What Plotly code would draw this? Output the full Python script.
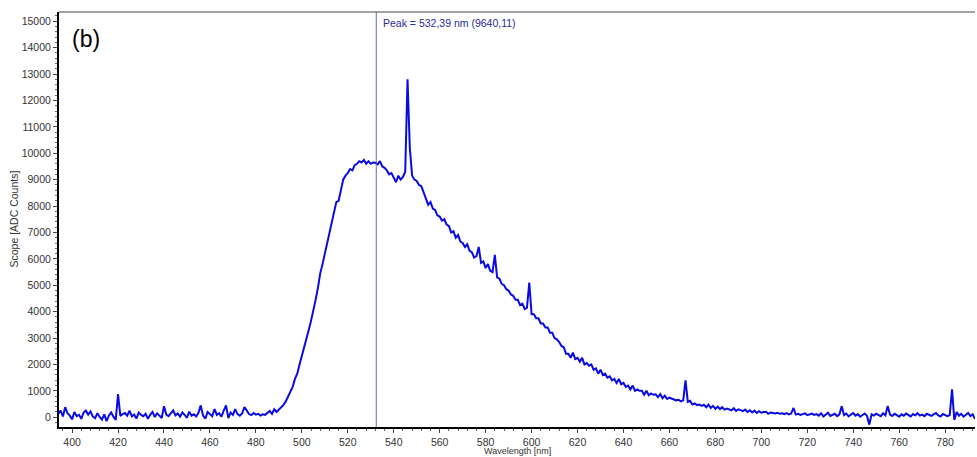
import plotly.graph_objects as go

# wavelength grid (nm), 1 nm sampling
wavelength = list(range(394, 794))

# counts, 10 values per row
counts = [
    120, 250, 30, 380, 150, 60, -80, 200, 40, 90,          # 394
    -60, 180, 250, 100, 220, 30, -40, 150, 10, -90,        # 404
    110, -150, 60, 180, 20, -100, 880, 50, 120, 160,       # 414
    60, 250, 30, 100, -50, 180, 90, 40, 130, -60,          # 424
    90, 200, 10, 150, 60, -30, 420, 100, 40, 130,          # 434
    260, 70, 140, 20, 180, 90, -20, 210, 60, 110,          # 444
    30, 170, 450, 60, -50, 200, 120, 40, 310, 90,          # 454
    150, 20, 250, 450, -30, 180, 90, 310, 120, 60,         # 464
    140, 380, 260, 120, 80, 160, 100, 130, 60, 110,        # 474
    90, 150, 240, 130, 300, 200, 280, 380, 470, 600,       # 484
    780, 950, 1150, 1450, 1650, 2000, 2300, 2600, 2950, 3300,   # 494
    3650, 4000, 4450, 4900, 5450, 5800, 6200, 6550, 7000, 7300, # 504
    7750, 8150, 8200, 8550, 9000, 9150, 9250, 9400, 9350, 9550, # 514
    9600, 9700, 9650, 9750, 9600, 9700, 9600, 9650, 9640, 9580, # 524
    9700, 9500, 9450, 9350, 9200, 9250, 9050, 8900, 9150, 9000, # 534
    9100, 9300, 12800, 10200, 9150, 9000, 8950, 8800, 8750, 8500, # 544
    8300, 8050, 8150, 7900, 7850, 7650, 7600, 7450, 7500, 7300, # 554
    7250, 7000, 7050, 6800, 6900, 6650, 6600, 6450, 6550, 6300, # 564
    6250, 6050, 6100, 6450, 5850, 5900, 5650, 5800, 5550, 5500, # 574
    6150, 5300, 5250, 5050, 5000, 4850, 4800, 4650, 4600, 4450, # 584
    4450, 4250, 4300, 4100, 4150, 5100, 3900, 3900, 3750, 3750, # 594
    3550, 3550, 3400, 3400, 3200, 3200, 3000, 2950, 2850, 2700, # 604
    2650, 2400, 2400, 2250, 2450, 2200, 2250, 2100, 2250, 2000, # 614
    2050, 1950, 2000, 1800, 1850, 1650, 1800, 1600, 1650, 1500, # 624
    1550, 1400, 1450, 1300, 1450, 1250, 1300, 1150, 1200, 1050, # 634
    1200, 1000, 1050, 1000, 1000, 850, 1000, 830, 900, 850,     # 644
    870, 760, 880, 720, 820, 690, 740, 700, 690, 640,           # 654
    660, 600, 640, 1400, 580, 620, 480, 520, 460, 480,          # 664
    430, 470, 380, 480, 350, 430, 320, 400, 310, 380,           # 674
    290, 330, 300, 260, 340, 240, 300, 270, 230, 290,           # 684
    200, 260, 180, 250, 160, 230, 170, 200, 210, 130,           # 694
    180, 160, 140, 170, 130, 150, 120, 160, 110, 140,           # 704
    350, 100, 130, 90, 120, 150, 80, 110, 140, 90,              # 714
    120, 60, 150, 30, 100, 170, 50, 90, 130, 40,                # 724
    110, 420, 80, 140, 30, 100, 160, 60, 120, 20,               # 734
    90, 140, 50, -280, 110, 60, 130, 80, 40, 150,               # 744
    70, 430, 100, 50, 130, 80, 20, 110, 60, 140,                # 754
    90, 30, 120, 70, 150, 60, 100, 40, 130, 80,                 # 764
    50, 110, 160, 70, 30, 120, 90, 40, 80, 1060,                # 774
    -100, 200, 60, 130, 20, 100, 160, 40, 110, -60,             # 784
]

peak_wl = 532.39
peak_label = "Peak = 532,39 nm (9640,11)"
x_ticks = list(range(400, 781, 20))
y_ticks = list(range(0, 15001, 1000))

fig = go.Figure()
fig.add_trace(go.Scatter(
    x=wavelength, y=counts, mode="lines",
    line=dict(color="#0a0ae6", width=2),
    showlegend=False, hoverinfo="skip",
))

fig.add_shape(type="line", xref="x", yref="paper", x0=peak_wl, x1=peak_wl,
              y0=0, y1=1, line=dict(color="#6a6aa8", width=1))
fig.add_shape(type="line", xref="paper", yref="paper", x0=0, x1=1, y0=1, y1=1,
              line=dict(color="#444444", width=1))

fig.add_annotation(x=peak_wl, y=1, xref="x", yref="paper", text=peak_label,
                   showarrow=False, xanchor="left", yanchor="top", xshift=5, yshift=-3,
                   font=dict(family="Liberation Sans, Arial", size=10.5, color="#2a2aa0"))
fig.add_annotation(x=0.012, y=0.97, xref="paper", yref="paper", text="(b)",
                   showarrow=False, xanchor="left", yanchor="top",
                   font=dict(family="Liberation Sans, Arial", size=23, color="#000000"))
fig.add_annotation(x=0.5, y=0, xref="paper", yref="paper", text="Wavelength [nm]",
                   showarrow=False, xanchor="center", yanchor="top", yshift=-17,
                   font=dict(family="Liberation Sans, Arial", size=9, color="#333333"))
fig.add_annotation(x=0, y=0.5, xref="paper", yref="paper", text="Scope [ADC Counts]",
                   showarrow=False, textangle=-90, xanchor="right", yanchor="middle",
                   xshift=-38,
                   font=dict(family="Liberation Sans, Arial", size=10.5, color="#333333"))

tickfont = dict(family="Liberation Sans, Arial", size=10.5, color="#333333")
fig.update_xaxes(range=[394.3, 793], tickvals=x_ticks, ticks="outside", ticklen=4,
                 tickcolor="#444", showgrid=False, zeroline=False, showline=True,
                 linecolor="#000000", linewidth=2, tickfont=tickfont, automargin=False,
                 minor=dict(dtick=4, tick0=400, ticks="outside", ticklen=2,
                            tickcolor="#666", showgrid=False))
fig.update_yaxes(range=[-370, 15350], tickvals=y_ticks, tickformat="d", ticks="outside",
                 ticklen=4, tickcolor="#444", showgrid=False, zeroline=False, showline=True,
                 linecolor="#000000", linewidth=2, tickfont=tickfont, automargin=False,
                 minor=dict(dtick=200, tick0=0, ticks="outside", ticklen=2,
                            tickcolor="#666", showgrid=False))

fig.update_layout(width=977, height=457, margin=dict(l=59, r=2, t=12, b=30),
                  plot_bgcolor="white", paper_bgcolor="white")

fig.write_html("out.html", config={"displayModeBar": False},
               post_script="document.body.style.margin='0';document.body.style.overflow='hidden';")
